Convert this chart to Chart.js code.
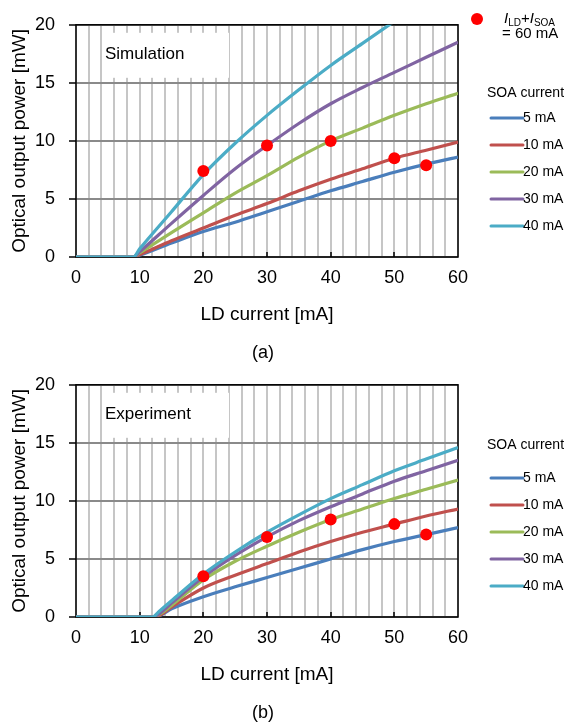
<!DOCTYPE html>
<html>
<head>
<meta charset="utf-8">
<script src="https://cdn.jsdelivr.net/npm/chart.js@4.4.1/dist/chart.umd.min.js"></script>
<style>
  html, body { margin: 0; padding: 0; background: #fff; }
  .panel { position: absolute; left: 0; width: 564px; height: 363px; }
</style>
</head>
<body>
<div class="panel" style="top:0"><canvas id="simChart" width="564" height="363"></canvas></div>
<div class="panel" style="top:360px"><canvas id="expChart" width="564" height="363"></canvas></div>
<script>
// LD current samples [mA]
const ldSim = [0, 9, 10, 15, 20, 25, 30, 35, 40, 45, 50, 55, 60];
const ldExp = [0, 12, 13, 15, 20, 25, 30, 35, 40, 45, 50, 55, 60];

// Simulation, optical power [mW] per SOA current
const sim5mA  = [0, 0, 0.15, 1.2, 2.2, 3.0, 3.9, 4.8, 5.7, 6.5, 7.3, 8.0, 8.6];
const sim10mA = [0, 0, 0.2, 1.4, 2.5, 3.6, 4.6, 5.7, 6.7, 7.6, 8.5, 9.2, 9.9];
const sim20mA = [0, 0, 0.35, 2.1, 3.8, 5.5, 7.0, 8.6, 10.0, 11.1, 12.2, 13.2, 14.1];
const sim30mA = [0, 0, 0.45, 2.9, 5.3, 7.6, 9.6, 11.5, 13.2, 14.6, 15.9, 17.2, 18.5];
const sim40mA = [0, 0, 0.7, 3.9, 7.1, 9.8, 12.2, 14.4, 16.5, 18.4, 20.3, null, null];

// Experiment
const exp5mA  = [0, 0, 0.08, 0.7, 1.75, 2.6, 3.4, 4.2, 5.0, 5.8, 6.5, 7.1, 7.7];
const exp10mA = [0, 0, 0.1, 0.85, 2.5, 3.6, 4.6, 5.6, 6.5, 7.3, 8.0, 8.7, 9.3];
const exp20mA = [0, 0, 0.2, 1.0, 3.2, 4.8, 6.1, 7.3, 8.4, 9.3, 10.2, 11.0, 11.8];
const exp30mA = [0, 0, 0.25, 1.2, 3.45, 5.3, 6.9, 8.3, 9.5, 10.6, 11.7, 12.6, 13.5];
const exp40mA = [0, 0, 0.45, 1.4, 3.7, 5.6, 7.3, 8.8, 10.2, 11.4, 12.6, 13.6, 14.6];

// I_LD + I_SOA = 60 mA points
const dotLd = [20, 30, 40, 50, 55];
const simDots = [7.4, 9.6, 10.0, 8.5, 7.9];
const expDots = [3.5, 6.9, 8.4, 8.0, 7.1];

const soaLabels = ['5 mA', '10 mA', '20 mA', '30 mA', '40 mA'];
const soaColors = ['#4a7ebb', '#c0504d', '#9bbb59', '#8064a2', '#4bacc6'];
const xTicks = [0, 10, 20, 30, 40, 50, 60];
const yTicks = [0, 5, 10, 15, 20];

const FONT = '"Liberation Sans", Arial, sans-serif';

function toPoints(xs, ys) {
    return xs.map((x, i) => ({ x: x, y: ys[i] }));
}

function makeChart(id, xs, series, dots, note, caption, legendTitleY, showDotLegend) {
    const datasets = series.map((ys, i) => ({
        label: soaLabels[i],
        data: toPoints(xs, ys),
        borderColor: soaColors[i],
        borderWidth: 3.2,
        pointRadius: 0,
        cubicInterpolationMode: 'monotone',
        fill: false,
        order: series.length - i   // higher SOA current drawn on top
    }));
    datasets.push({
        label: 'dots',
        data: toPoints(dotLd, dots),
        showLine: false,
        pointRadius: 6,
        pointBackgroundColor: '#ff0000',
        pointBorderWidth: 0,
        order: 0
    });

    // frame, inner ticks, note box, caption and legend
    const decor = {
        id: 'decor',
        beforeDatasetsDraw(chart) {
            const ctx = chart.ctx;
            const a = chart.chartArea;
            const xs = chart.scales.x;
            ctx.save();
            ctx.fillStyle = '#fff';
            ctx.fillRect(a.left + 27, a.top + 8, 126, 45);
            ctx.fillStyle = '#000';
            ctx.font = '17px ' + FONT;
            ctx.textBaseline = 'middle';
            ctx.fillText(note, a.left + 29, a.top + 30);

            ctx.strokeStyle = '#000';
            ctx.lineWidth = 1.5;
            ctx.strokeRect(a.left, a.top, a.right - a.left, a.bottom - a.top);
            ctx.beginPath();
            xTicks.slice(1, -1).forEach(v => {
                const px = Math.round(xs.getPixelForValue(v));
                ctx.moveTo(px, a.bottom);
                ctx.lineTo(px, a.bottom - 5);
            });
            ctx.stroke();
            ctx.restore();
        },
        afterDraw(chart) {
            const ctx = chart.ctx;
            const a = chart.chartArea;
            ctx.save();
            ctx.fillStyle = '#000';
            ctx.font = '18px ' + FONT;
            ctx.textAlign = 'center';
            ctx.textBaseline = 'middle';
            ctx.fillText(caption, (a.left + a.right) / 2 - 4, 353);

            // legend
            ctx.textAlign = 'left';
            if (showDotLegend) {
                ctx.fillStyle = '#ff0000';
                ctx.beginPath();
                ctx.arc(477, 19, 6, 0, Math.PI * 2);
                ctx.fill();
                ctx.fillStyle = '#000';
                let x = 504;
                const parts = [['I', 'italic 15px ', 0], ['LD', '10px ', 4], ['+', '15px ', 0], ['I', 'italic 15px ', 0], ['SOA', '10px ', 4]];
                parts.forEach(p => {
                    ctx.font = p[1] + FONT;
                    ctx.fillText(p[0], x, 19 + p[2]);
                    x += ctx.measureText(p[0]).width;
                });
                ctx.font = '15px ' + FONT;
                ctx.fillText('= 60 mA', 502, 34);
            }
            ctx.font = '14px ' + FONT;
            ctx.fillText('SOA current', 487, legendTitleY);
            chart.data.datasets.slice(0, soaLabels.length).forEach((ds, i) => {
                const y = 118 + i * 27;
                ctx.strokeStyle = ds.borderColor;
                ctx.lineWidth = 3;
                ctx.lineCap = 'round';
                ctx.beginPath();
                ctx.moveTo(491, y);
                ctx.lineTo(523, y);
                ctx.stroke();
                ctx.fillStyle = '#000';
                ctx.fillText(ds.label, 523, y);
            });
            ctx.restore();
        }
    };

    return new Chart(document.getElementById(id), {
        type: 'line',
        data: { datasets: datasets },
        plugins: [decor],
        options: {
            responsive: false,
            animation: false,
            devicePixelRatio: 1,
            layout: { padding: { left: 0, right: 106, top: 15, bottom: 30 } },
            plugins: { legend: { display: false }, tooltip: { enabled: false } },
            scales: {
                x: {
                    type: 'linear',
                    min: 0,
                    max: 60,
                    afterFit: s => { s.height = 76; },
                    ticks: {
                        stepSize: 2,
                        autoSkip: false,
                        maxRotation: 0,
                        padding: 10,
                        color: '#000',
                        font: { size: 18, family: FONT },
                        callback: v => (xTicks.includes(v) ? String(v) : '')
                    },
                    grid: { color: '#c6c6c6', lineWidth: 2, drawTicks: false },
                    border: { display: false },
                    title: {
                        display: true,
                        text: 'LD current [mA]',
                        color: '#000',
                        font: { size: 19, family: FONT },
                        padding: { top: 0, bottom: 7 }
                    }
                },
                y: {
                    min: 0,
                    max: 20,
                    afterFit: s => { s.width = 76; },
                    ticks: {
                        stepSize: 5,
                        padding: 14,
                        color: '#000',
                        font: { size: 18, family: FONT },
                        callback: v => (yTicks.includes(v) ? String(v) : '')
                    },
                    grid: { color: '#8a8a8a', lineWidth: 2, tickLength: 7, tickColor: '#000', tickWidth: 1.5 },
                    border: { display: false },
                    title: {
                        display: true,
                        text: 'Optical output power [mW]',
                        color: '#000',
                        font: { size: 19, family: FONT },
                        padding: { top: 8, bottom: 0 }
                    }
                }
            }
        }
    });
}

makeChart('simChart', ldSim, [sim5mA, sim10mA, sim20mA, sim30mA, sim40mA], simDots, 'Simulation', '(a)', 93, true);
makeChart('expChart', ldExp, [exp5mA, exp10mA, exp20mA, exp30mA, exp40mA], expDots, 'Experiment', '(b)', 85, false);
</script>
</body>
</html>
